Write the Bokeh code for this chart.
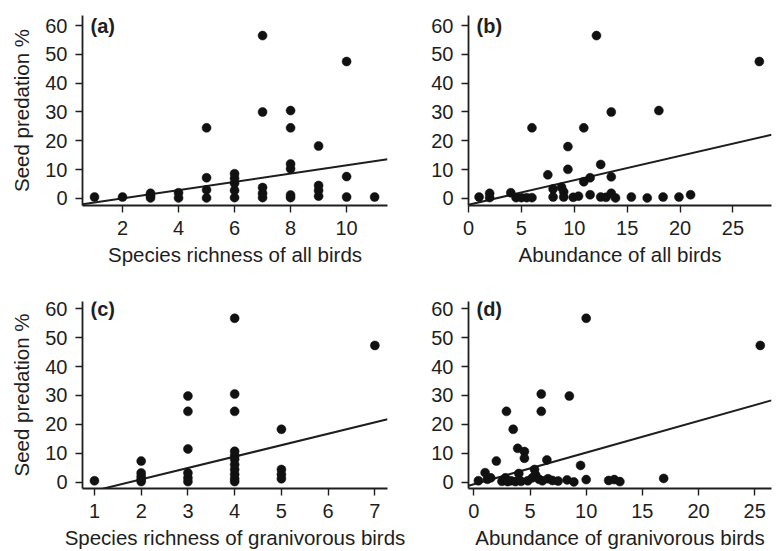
from bokeh.plotting import figure
from bokeh.layouts import gridplot
from bokeh.models import FixedTicker, Label, Range1d
from bokeh.embed import file_html
from bokeh.resources import INLINE

# ---- data ----
y_ticks = [0, 10, 20, 30, 40, 50, 60]

# (a) species richness of all birds
a_x = [1, 2, 3, 3, 3, 4, 4, 5, 5, 5, 5, 6, 6, 6, 6, 6, 7, 7, 7, 7, 7,
       8, 8, 8, 8, 8, 8, 9, 9, 9, 9, 10, 10, 10, 11]
a_y = [0.5, 0.5, 0.2, 1.0, 1.8, 0.2, 2.0, 0.2, 3.0, 7.2, 24.5, 0.3, 2.8, 5.3, 7.0, 8.6,
       0.3, 1.8, 3.8, 30.0, 56.5, 0.3, 1.2, 10.3, 12.0, 24.5, 30.5, 0.8, 2.8, 4.5, 18.2,
       0.5, 7.6, 47.5, 0.5]
a_ticks = [2, 4, 6, 8, 10]
a_fit = [-2.8, 1.43]  # intercept, slope

# (b) abundance of all birds
b_x = [1.0, 2.0, 2.0, 4.0, 4.5, 5.0, 5.5, 6.0, 6.0, 7.5, 8.0, 8.0, 8.8, 9.0, 9.0, 9.4, 9.4,
       9.9, 10.4, 10.9, 10.9, 11.5, 11.5, 12.1, 12.5, 12.5, 13.0, 13.5, 13.5, 13.5, 13.9,
       15.4, 16.9, 18.0, 18.4, 19.9, 21.0, 27.5]
b_y = [0.5, 1.8, 0.3, 2.0, 0.3, 0.3, 0.3, 0.3, 24.5, 8.2, 3.3, 0.5, 3.9, 2.3, 0.5, 18.0, 10.1,
       0.4, 0.8, 24.5, 5.8, 7.2, 1.3, 56.5, 11.8, 0.5, 0.4, 30.0, 7.5, 1.8, 0.2,
       0.5, 0.2, 30.5, 0.5, 0.5, 1.3, 47.5]
b_ticks = [0, 5, 10, 15, 20, 25]
b_fit = [-2.15, 0.846]

# (c) species richness of granivorous birds
c_x = [1, 2, 2, 2, 2, 2, 3, 3, 3, 3, 3, 3, 4, 4, 4, 4, 4, 4, 4, 4, 4, 4, 4, 5, 5, 5, 5, 7]
c_y = [0.5, 0.2, 1.0, 2.0, 3.2, 7.3, 0.2, 1.5, 3.2, 11.5, 24.5, 29.8,
       0.2, 1.2, 2.7, 4.4, 6.1, 7.9, 9.2, 10.7, 24.5, 30.5, 56.7, 1.2, 2.7, 4.4, 18.3, 47.3]
c_ticks = [1, 2, 3, 4, 5, 6, 7]
c_fit = [-6.9, 3.94]

# (d) abundance of granivorous birds
d_x = [0.4, 1.0, 1.2, 1.5, 2.0, 2.5, 2.8, 2.9, 3.0, 3.3, 3.5, 3.7, 3.9, 4.0, 4.2, 4.5, 4.5,
       4.8, 5.2, 5.4, 5.5, 5.8, 6.0, 6.0, 6.1, 6.5, 6.6, 7.0, 7.5, 8.3, 8.5, 8.9, 9.5,
       10.0, 10.0, 12.0, 12.5, 13.0, 16.9, 25.5]
d_y = [0.5, 3.3, 1.0, 1.5, 7.3, 0.3, 1.5, 24.5, 0.2, 0.5, 18.3, 0.2, 11.7, 3.0, 0.3, 10.6, 8.3,
       0.5, 1.5, 4.4, 2.5, 1.0, 30.5, 24.5, 0.5, 7.7, 1.2, 0.6, 0.4, 0.8, 29.8, 0.1, 5.8,
       56.7, 0.9, 0.6, 0.9, 0.2, 1.3, 47.3]
d_ticks = [0, 5, 10, 15, 20, 25]
d_fit = [-0.72, 1.095]

INK = "#1e1e1e"
FONT = "Liberation Sans"


def panel(xs, ys, ticks, fit, xr, yr, xlabel, ylabel, letter,
          width, height, bl, br, bt, bb):
    p = figure(width=width, height=height, output_backend="svg", toolbar_location=None,
               x_range=Range1d(*xr), y_range=Range1d(*yr),
               min_border_left=bl, min_border_right=br, min_border_top=bt,
               min_border_bottom=bb)
    p.outline_line_color = None
    p.background_fill_color = "white"
    p.border_fill_color = "white"
    p.xgrid.visible = False
    p.ygrid.visible = False

    for ax, tk in ((p.xaxis, ticks), (p.yaxis, y_ticks)):
        ax.ticker = FixedTicker(ticks=tk)
        ax.minor_tick_line_color = None
        ax.major_tick_in = 0
        ax.major_tick_out = 7
        ax.major_tick_line_color = INK
        ax.major_tick_line_width = 1.4
        ax.axis_line_color = INK
        ax.axis_line_width = 1.8
        ax.major_label_text_font = FONT
        ax.major_label_text_font_size = "20px"
        ax.major_label_text_color = INK
        ax.axis_label_text_font = FONT
        ax.axis_label_text_font_size = "20.5px"
        ax.axis_label_text_font_style = "normal"
        ax.axis_label_text_color = INK
    p.xaxis.major_label_standoff = 8
    p.yaxis.major_label_standoff = 8
    p.xaxis.axis_label = xlabel
    p.xaxis.axis_label_standoff = 5
    if ylabel:
        p.yaxis.axis_label = ylabel
        p.yaxis.axis_label_standoff = 9

    # regression line across the whole plot region
    lx = [xr[0], xr[1]]
    ly = [fit[0] + fit[1] * v for v in lx]
    p.line(lx, ly, line_color=INK, line_width=2)

    p.scatter(xs, ys, size=9, fill_color="#111111", line_color="#111111", line_width=0.5)

    frame_w = width - bl - br
    lab = Label(x=xr[0] + 8 * (xr[1] - xr[0]) / frame_w, y=60, text=letter,
                text_font=FONT, text_font_size="20px", text_font_style="bold",
                text_color=INK, text_baseline="middle", text_align="left")
    p.add_layout(lab)
    return p


pa = panel(a_x, a_y, a_ticks, a_fit, (0.571, 11.46), (-2.43, 63.47),
           "Species richness of all birds", "Seed predation %", "(a)",
           414, 270, 82, 27, 15, 65)
pb = panel(b_x, b_y, b_ticks, b_fit, (0.0, 28.65), (-2.43, 63.47),
           "Abundance of all birds", None, "(b)",
           363, 270, 54, 6, 15, 65)
pc = panel(c_x, c_y, c_ticks, c_fit, (0.744, 7.27), (-2.18, 62.5),
           "Species richness of granivorous birds", "Seed predation %", "(c)",
           414, 281, 82, 26, 31, 62)
pd_ = panel(d_x, d_y, d_ticks, d_fit, (-0.48, 26.5), (-2.18, 62.5),
            "Abundance of granivorous birds", None, "(d)",
            363, 281, 53, 6, 31, 62)

grid = gridplot([[pa, pb], [pc, pd_]], toolbar_location=None)

open("out.html", "w").write(file_html(grid, INLINE))
